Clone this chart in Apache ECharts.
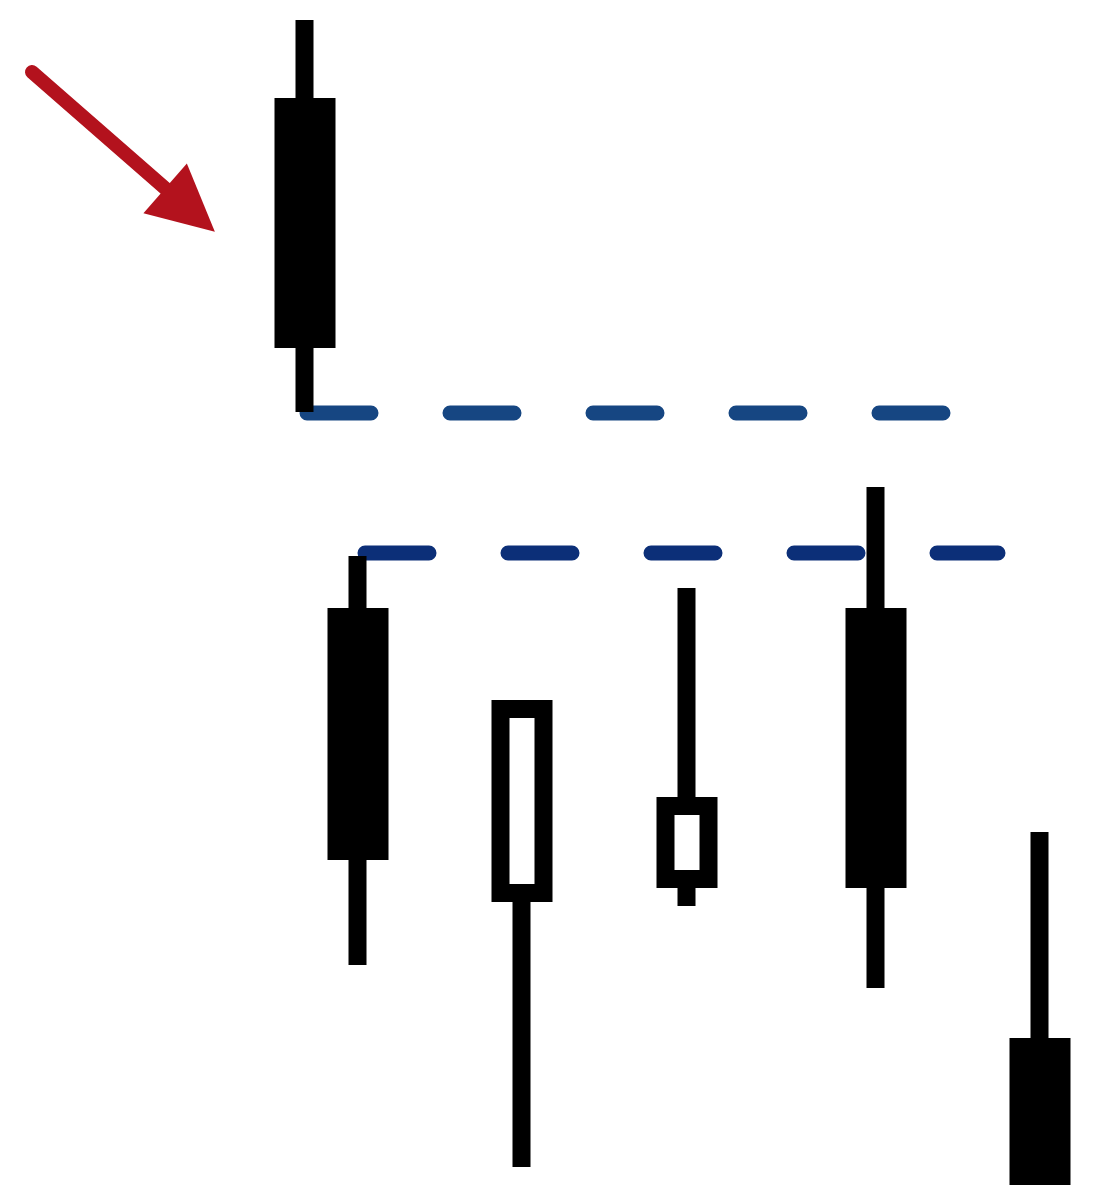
<!DOCTYPE html>
<html>
<head>
<meta charset="utf-8">
<script src="https://cdn.jsdelivr.net/npm/echarts@6/dist/echarts.min.js"></script>
<style>
html,body{margin:0;padding:0;background:#fff;}
#chart{width:1102px;height:1200px;}
</style>
</head>
<body>
<div id="chart"></div>
<script>
// Candle positions (x) and OHLC values (price units, up = higher)
const candleX = [305, 358, 522, 687, 876, 1040];
const opens   = [1093, 583, 307, 321, 583, 153];
const closes  = [861, 349, 491, 394, 321, 24];
const lows    = [788, 235, 33, 294, 212, 24];
const highs   = [1180, 644, 491, 612, 713, 368];

// Dashed support/resistance levels
const level1 = { value: 787, from: 307, to: 943 };
const level2 = { value: 647, from: 365, to: 998 };

// Arrow annotation (start, head centre)
const arrowStart = [32, 1128];
const arrowEnd = [190, 990];

const candleData = candleX.map((x, i) => [x, opens[i], closes[i], lows[i], highs[i]]);

const chart = echarts.init(document.getElementById('chart'), null, { renderer: 'canvas' });
chart.setOption({
  animation: false,
  backgroundColor: '#ffffff',
  grid: { left: 0, right: 0, top: 0, bottom: 0 },
  xAxis: { type: 'value', min: 0, max: 1102, show: false },
  yAxis: { type: 'value', min: 0, max: 1200, show: false },
  series: [
    {
      type: 'line',
      data: [[level1.from, level1.value], [level1.to, level1.value]],
      symbol: 'none',
      lineStyle: { color: '#164682', width: 15, type: [64, 79], cap: 'round' },
      z: 1
    },
    {
      type: 'line',
      data: [[level2.from, level2.value], [level2.to, level2.value]],
      symbol: 'none',
      lineStyle: { color: '#0c2f78', width: 15, type: [64, 79], cap: 'round' },
      z: 1
    },
    {
      type: 'candlestick',
      data: candleData,
      encode: { x: 0, y: [1, 2, 3, 4] },
      barWidth: 44,
      itemStyle: {
        color: '#ffffff',
        color0: '#000000',
        borderColor: '#000000',
        borderColor0: '#000000',
        borderColorDoji: '#000000',
        borderWidth: 18
      },
      z: 3
    },
    {
      type: 'lines',
      coordinateSystem: 'cartesian2d',
      symbol: ['none', 'triangle'],
      symbolSize: 66,
      lineStyle: { color: '#b3121d', width: 14, opacity: 1, curveness: 0, cap: 'round' },
      data: [{ coords: [arrowStart, arrowEnd] }],
      z: 4
    }
  ]
});
</script>
</body>
</html>
